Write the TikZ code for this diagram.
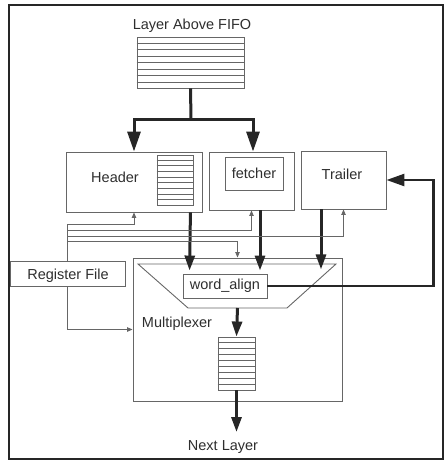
\documentclass[tikz,border=0pt]{standalone}
\usepackage{fontspec}
\setmainfont{Liberation Sans}
\usetikzlibrary{arrows.meta,calc}
\definecolor{boxgray}{HTML}{666666}
\definecolor{darkline}{HTML}{262626}
\definecolor{txt}{HTML}{2E2E2E}
\newcommand\mkrows[3]{% node, inner lines, rows
  \foreach \i in {1,...,#2}{%
    \draw[rowline] ($(#1.north west)!{\i/#3}!(#1.south west)$) -- ($(#1.north east)!{\i/#3}!(#1.south east)$);}}
\begin{document}
\begin{tikzpicture}[x=1pt,y=-1pt,
  box/.style={draw=boxgray,line width=0.9pt,inner sep=0pt,rectangle},
  rowline/.style={draw=boxgray,line width=0.9pt},
  lbl/.style={inner sep=0pt,text=txt,font=\fontsize{14.5}{17}\selectfont},
  bigarrow/.style={draw=darkline,line width=3pt,-{Triangle[length=20pt,width=13pt]}},
  medarrow/.style={draw=darkline,line width=3pt,-{Triangle[length=15pt,width=10pt]}},
  thinarrow/.style={draw=boxgray,line width=0.9pt,-{Triangle[length=5.5pt,width=4.5pt]}}]
\useasboundingbox (0,0) rectangle (445,461);
% outer frame
\draw[draw=darkline,line width=2pt] (9,5) rectangle (443,459);

% top FIFO
\node[lbl] (above) at (192,26) {Layer Above FIFO};
\node[box,minimum width=107pt,minimum height=51pt] (fifo) at (190.5,62.5) {};
\mkrows{fifo}{7}{8}

% Header
\node[box,minimum width=136pt,minimum height=60pt] (header) at (134,182) {};
\node[lbl] (headertxt) at (115,177) {Header};
\node[box,minimum width=36pt,minimum height=50pt] (hstack) at (175,180) {};
\mkrows{hstack}{8}{9}

% fetcher
\node[box,minimum width=85pt,minimum height=58pt] (fetcher) at (251.5,181) {};
\node[box,minimum width=58pt,minimum height=33pt,lbl] (fetchin) at (254,173.5) {fetcher};

% Trailer
\node[box,minimum width=85pt,minimum height=58pt] (trailer) at (343.5,180) {};
\node[lbl] (trailertxt) at (342,174) {Trailer};

% Register File
\node[box,minimum width=115pt,minimum height=25pt] (reg) at (67.5,274) {};
\node[lbl] (regtxt) at (68,276) {Register File};

% Multiplexer
\node[box,minimum width=209pt,minimum height=143pt] (mux) at (237.5,329.5) {};
\coordinate (t1) at (138,264);
\coordinate (t2) at (336,264);
\coordinate (t3) at (287,308);
\coordinate (t4) at (188,308);
\coordinate (tb) at (237.5,308);
\draw[draw=boxgray,line width=0.9pt] (t1) -- (t2) -- (t3) -- (t4) -- cycle;
\node[box,minimum width=84pt,minimum height=24pt,lbl] (wa) at (225,286) {word\_align};
\node[lbl] (muxtxt) at (177,324) {Multiplexer};
\node[box,minimum width=37pt,minimum height=53pt] (ostack) at (236.5,363.5) {};
\mkrows{ostack}{8}{9}
\node[lbl] (next) at (223,447) {Next Layer};
\coordinate (nextend) at (236.5,432);

% thick arrows from FIFO
\coordinate (split) at (191,119);
\draw[draw=darkline,line width=3pt] (fifo.south) -- (split);
\draw[bigarrow] (split) -| (header.north);
\draw[bigarrow] (split) -| ($(fetcher.north)+(1.5,0)$);

% thick arrows into word_align / multiplexer
\draw[medarrow] ($(header.south east)+(-12,0)$) -- ($(wa.north west)+(7,-3)$);
\draw[medarrow] ($(fetcher.south)+(8.5,0)$) -- ($(wa.north)+(35,-3)$);
\draw[medarrow] ($(trailer.south)+(-22.5,0)$) -- ($(trailer.south)+(-22.5,60)$);

% word_align back to Trailer
\draw[draw=darkline,line width=2.6pt,-{Triangle[length=18pt,width=12pt]}]
  (wa.east) -- ++(166,0) |- (trailer.east);

% output
\draw[medarrow] (tb) -- (ostack.north);
\draw[medarrow] (ostack.south) -- (nextend);

% thin control lines from Register File
\draw[thinarrow] (reg.north) -- ($(reg.north)+(0,-37)$) -| (header.south);
\draw[thinarrow] (reg.north) -- ($(reg.north)+(0,-31)$) -| (fetcher.south);
\draw[thinarrow] (reg.north) -- ($(reg.north)+(0,-25)$) -| (trailer.south);
\draw[thinarrow] (reg.north) -- ($(reg.north)+(0,-20)$) -| (mux.north);
\draw[thinarrow] (reg.south) |- (mux.west);
\end{tikzpicture}
\end{document}
